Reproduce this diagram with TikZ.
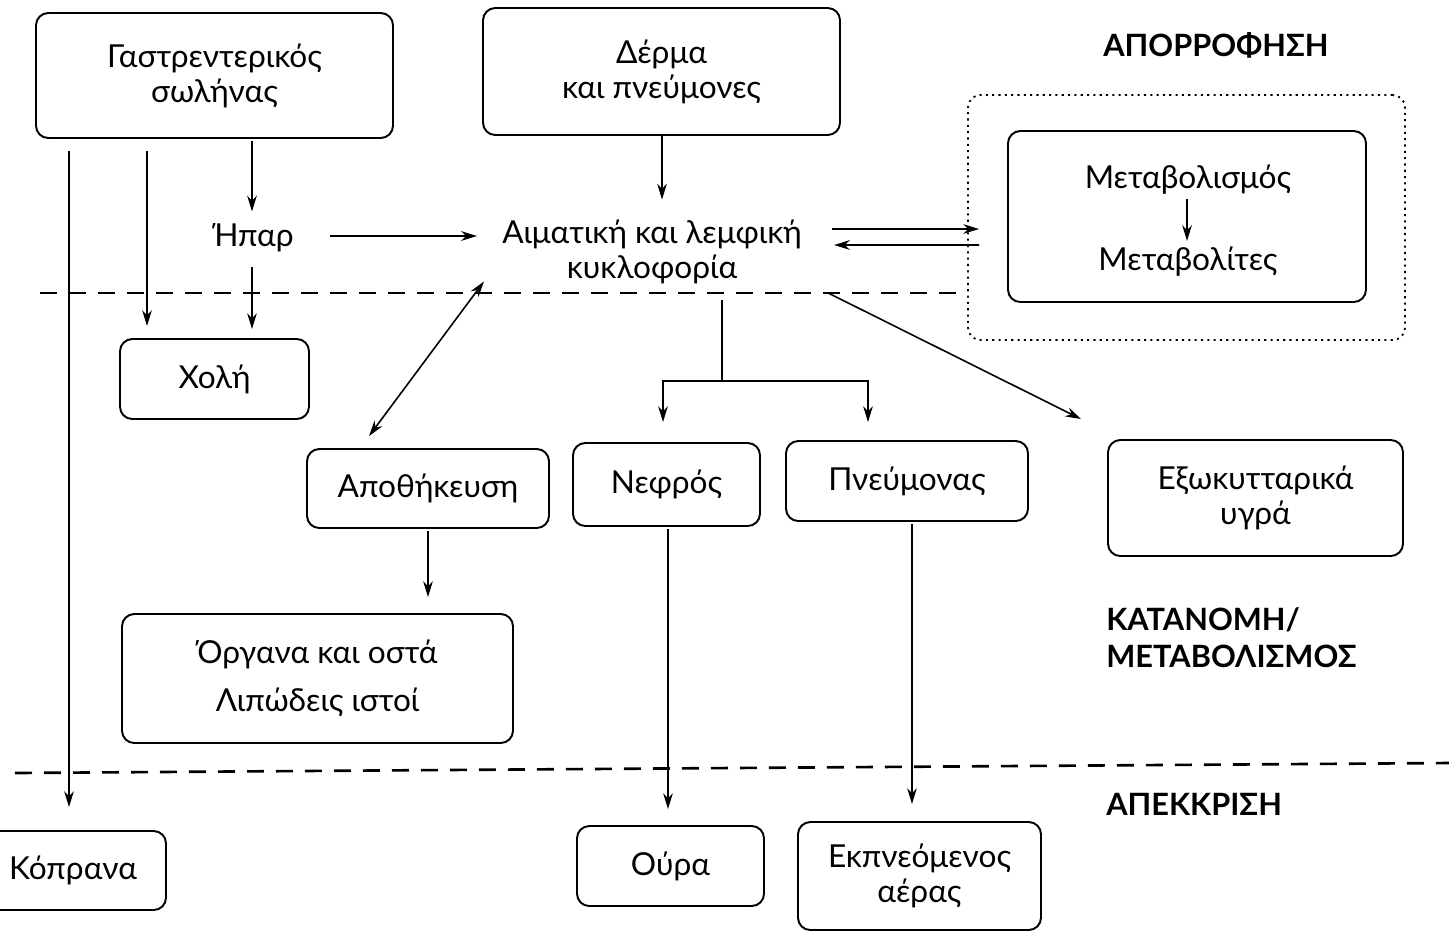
\documentclass[tikz,border=0pt]{standalone}
\usepackage{fontspec}
\setmainfont{Lato}
\usetikzlibrary{arrows.meta,calc}
\newdimen\pxu
\pxu=0.02cm
\begin{document}
\begin{tikzpicture}[x=\pxu,y=-\pxu,
  every node/.style={font=\fontsize{18}{20}\selectfont, align=center, inner sep=0pt},
  box/.style={draw, line width=1.1pt, rounded corners=7pt},
  arr/.style={-{Stealth[length=9pt,width=5.5pt]}, line width=0.9pt},
  darr/.style={{Stealth[length=9pt,width=5.5pt]}-{Stealth[length=9pt,width=5.5pt]}, line width=0.9pt},
  ln/.style={line width=0.9pt},
  title/.style={font=\fontsize{17.5}{21}\selectfont\bfseries, anchor=west, align=left},
  sep/.style={line width=1.5pt, dash pattern=on 17\pxu off 12\pxu}]
\useasboundingbox (0,0) rectangle (1449,931);
\fill[white] (0,0) rectangle (1449,931);

% boxes
\node[box, minimum width=357\pxu, minimum height=125\pxu] (gi) at (214.5,75.5) {Γαστρεντερικός\\σωλήνας};
\node[box, minimum width=357\pxu, minimum height=127\pxu] (derma) at (661.5,71.5) {Δέρμα\\και πνεύμονες};
\node[draw, line width=1pt, dash pattern=on 1.2pt off 2.4pt, rounded corners=7pt, minimum width=437\pxu, minimum height=245\pxu] (outer) at (1186.5,217.5) {};
\node[box, minimum width=358\pxu, minimum height=171\pxu] (meta) at (1187,216.5) {};
\node (metab) at (1188,180) {Μεταβολισμός};
\node (metabs) at (1188,262) {Μεταβολίτες};
\node (liver) at (254,238) {Ήπαρ};
\node (circ) at (652,252) {Αιματική και λεμφική\\κυκλοφορία};
\node[box, minimum width=189\pxu, minimum height=80\pxu] (bile) at (214.5,379) {Χολή};
\node[box, minimum width=242\pxu, minimum height=79\pxu] (storage) at (428,488.5) {Αποθήκευση};
\node[box, minimum width=187\pxu, minimum height=83\pxu] (kidney) at (666.5,484.5) {Νεφρός};
\node[box, minimum width=242\pxu, minimum height=80\pxu] (lung) at (907,481) {Πνεύμονας};
\node[box, minimum width=295\pxu, minimum height=116\pxu] (ecf) at (1255.5,498) {Εξωκυτταρικά\\υγρά};
\node[box, minimum width=391\pxu, minimum height=129\pxu, font=\fontsize{18}{27}\selectfont] (organs) at (317.5,678.5) {Όργανα και οστά\\Λιπώδεις ιστοί};
\node[box, minimum width=196\pxu, minimum height=79\pxu] (feces) at (68,870.5) {};
\node (fecest) at (73,870) {Κόπρανα};
\node[box, minimum width=187\pxu, minimum height=80\pxu] (urine) at (670.5,866) {Ούρα};
\node[box, minimum width=243\pxu, minimum height=108\pxu] (air) at (919.5,876) {Εκπνεόμενος\\αέρας};

% titles
\node[title] (t1) at (1103,45) {ΑΠΟΡΡΟΦΗΣΗ};
\node[title] (t2) at (1106,638) {ΚΑΤΑΝΟΜΗ/\\ΜΕΤΑΒΟΛΙΣΜΟΣ};
\node[title] (t3) at (1106,804) {ΑΠΕΚΚΡΙΣΗ};

% separators
\coordinate (s1a) at (40,293);
\coordinate (s1b) at (966,293);
\coordinate (s2a) at (15,773);
\coordinate (s2b) at (1449,763);
\draw[sep] (s1a) -- (s1b);
\draw[sep] (s2a) -- (s2b);

% helper columns
\coordinate (c69) at (69,0);
\coordinate (c147) at (147,0);
\coordinate (c252) at (252,0);

% connectors
\draw[arr] ($(gi.south -| c69)+(0,12)$) -- ($(feces.north -| c69)+(0,-23)$);
\draw[arr] ($(gi.south -| c147)+(0,12)$) -- ($(bile.north -| c147)+(0,-12)$);
\draw[arr] ($(gi.south -| c252)+(0,2)$) -- ($(liver.north -| c252)+(0,-12)$);
\draw[arr] ($(liver.south -| c252)+(0,14)$) -- ($(bile.north -| c252)+(0,-9)$);
\draw[arr] ($(liver.east)+(36,-2)$) -- ($(circ.west)+(-25,-16)$);
\draw[arr] (derma.south -| 662,0) -- ($(circ.north -| 662,0)+(0,-20)$);
\draw[arr] ($(circ.east)+(30,-23)$) -- ($(meta.west)+(-28,12.5)$);
\draw[arr] ($(meta.west)+(-28,28.5)$) -- ($(circ.east)+(32,-7)$);
\draw[darr] ($(circ.south west)+(-18,-3)$) -- ($(storage.north west)+(63,-12)$);
\coordinate (cb) at (722,381);
\draw[ln] ($(circ.south -| cb)+(0,16)$) -- (cb);
\draw[arr] (cb) -| ($(kidney.north -| 663,0)+(0,-20)$);
\draw[arr] (cb) -| ($(lung.north -| 868,0)+(0,-18)$);
\draw[arr] ($(circ.south east)+(27,9)$) -- ($(ecf.north west)+(-26,-20)$);
\draw[arr] ($(storage.south)+(0,2)$) -- ($(storage.south |- organs.north)+(0,-16)$);
\draw[arr] ($(kidney.south -| 668,0)+(0,2)$) -- ($(urine.north -| 668,0)+(0,-16)$);
\draw[arr] ($(lung.south -| 912,0)+(0,2)$) -- ($(air.north -| 912,0)+(0,-17)$);
\draw[arr] ($(metab.south)+(-1,4)$) -- ($(metabs.north)+(-1,-6)$);
\end{tikzpicture}
\end{document}
